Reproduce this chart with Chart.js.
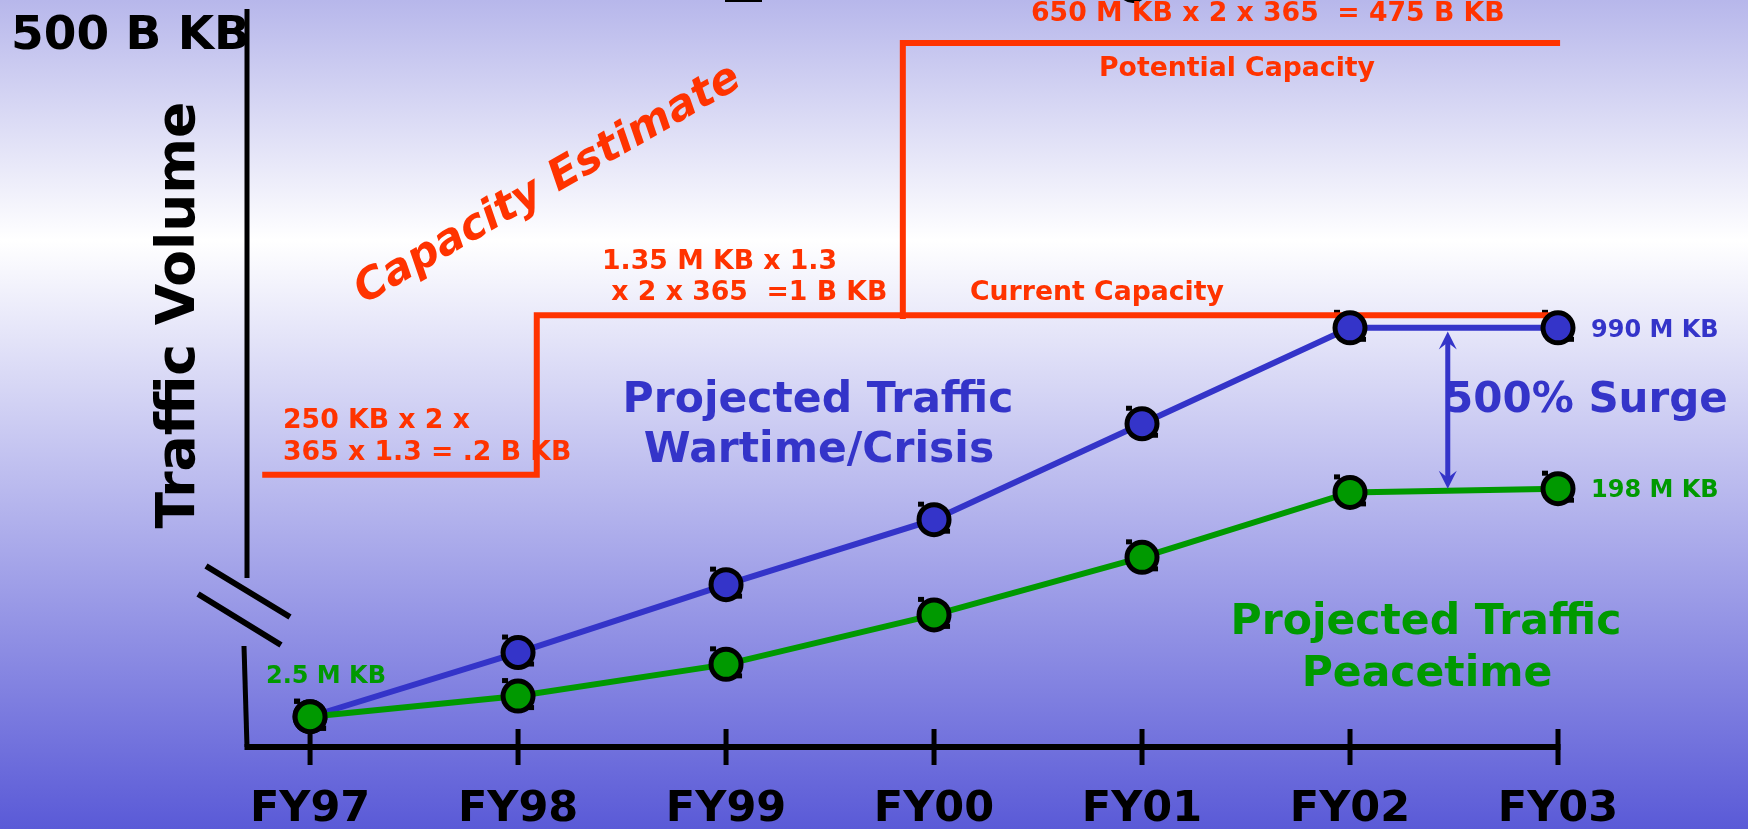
<!DOCTYPE html>
<html>
<head>
<meta charset="utf-8">
<script src="https://cdn.jsdelivr.net/npm/chart.js@4"></script>
<style>
  body { margin: 0; background: #fff; }
  canvas { display: block; }
</style>
</head>
<body>
<canvas id="traffic" width="1748" height="829"></canvas>
<script>
// categories and values (relative height, 0 = x axis, 100 = top of the axis)
const years = ['FY97', 'FY98', 'FY99', 'FY00', 'FY01', 'FY02', 'FY03'];
const wartime = [4.1, 12.8, 22.0, 30.8, 43.8, 56.8, 56.8];
const peacetime = [4.1, 6.9, 11.2, 17.9, 25.7, 34.5, 35.0];

// capacity step lines (x in year index units)
const currentCapX = [-0.23, 1.09, 1.09, 5.98];
const currentCapY = [36.9, 36.9, 58.5, 58.5];
const potentialCapX = [2.85, 2.85, 6.01];
const potentialCapY = [58.0, 95.4, 95.4];

// surge arrow
const surgeX = 5.47;
const surgeTop = 56.3;
const surgeBottom = 35.0;

const BLUE = '#3434c9';
const GREEN = '#009900';
const RED = '#ff3300';
const FONT = '"DejaVu Sans", sans-serif';

const canvas = document.getElementById('traffic');

function pts(xs, ys) {
  return xs.map((x, i) => ({ x: x, y: ys[i] }));
}

// background gradient
const background = {
  id: 'background',
  beforeDraw(chart) {
    const ctx = chart.ctx;
    const g = ctx.createLinearGradient(0, 0, 0, chart.height);
    g.addColorStop(0, '#b7b7eb');
    g.addColorStop(0.29, '#ffffff');
    g.addColorStop(1, '#5a5ad7');
    ctx.save();
    ctx.fillStyle = g;
    ctx.fillRect(0, 0, chart.width, chart.height);
    // bits of cut-off shapes at the top edge
    ctx.fillStyle = '#000';
    ctx.fillRect(725, 0, 37, 2);
    ctx.lineWidth = 4;
    ctx.strokeStyle = '#000';
    ctx.beginPath();
    ctx.arc(1133, -13, 14, 0.2 * Math.PI, 0.8 * Math.PI);
    ctx.stroke();
    ctx.restore();
  }
};

// axes with a break, ticks, labels and marker handles
const axes = {
  id: 'axes',
  beforeDatasetsDraw(chart) {
    const ctx = chart.ctx;
    const area = chart.chartArea;
    const xs = chart.scales.x;
    const bottom = area.bottom;
    const left = area.left;
    ctx.save();
    ctx.strokeStyle = '#000';
    ctx.lineCap = 'butt';

    // y axis, upper part
    ctx.lineWidth = 5;
    ctx.beginPath();
    ctx.moveTo(left + 1, area.top);
    ctx.lineTo(left + 1, bottom - 169);
    ctx.stroke();
    // break marks
    ctx.lineWidth = 6;
    ctx.beginPath();
    ctx.moveTo(left - 40, bottom - 181);
    ctx.lineTo(left + 44, bottom - 130);
    ctx.moveTo(left - 48, bottom - 153);
    ctx.lineTo(left + 35, bottom - 102);
    ctx.stroke();
    // y axis, lower part
    ctx.lineWidth = 5;
    ctx.beginPath();
    ctx.moveTo(left - 2, bottom - 101);
    ctx.lineTo(left + 1, bottom);
    ctx.stroke();

    // x axis
    const right = xs.getPixelForValue(years.length - 1);
    ctx.lineWidth = 6;
    ctx.beginPath();
    ctx.moveTo(left - 1.5, bottom);
    ctx.lineTo(right + 2.5, bottom);
    ctx.stroke();
    ctx.lineWidth = 5;
    ctx.font = 'bold 43px ' + FONT;
    ctx.fillStyle = '#000';
    ctx.textAlign = 'center';
    ctx.textBaseline = 'middle';
    years.forEach((label, i) => {
      const px = xs.getPixelForValue(i);
      ctx.beginPath();
      ctx.moveTo(px, bottom - 18);
      ctx.lineTo(px, bottom + 18);
      ctx.stroke();
      ctx.fillText(label, px, bottom + 63);
    });

    // little selection handles around every marker
    [0, 1].forEach(d => {
      chart.getDatasetMeta(d).data.forEach(p => {
        ctx.fillRect(p.x - 16, p.y - 18, 6, 5);
        ctx.fillRect(p.x + 10, p.y + 9, 6, 5);
      });
    });
    ctx.restore();
  }
};

const notes = [
  { text: '500 B KB', x: 11, y: 37, size: 47, color: '#000', align: 'left' },
  { text: 'Traffic Volume', x: 180, y: 315, size: 53.5, color: '#000', align: 'center', rot: -90 },
  { text: 'Capacity Estimate', x: 548, y: 185, size: 43, color: RED, align: 'center', rot: -30, italic: true },
  { text: '1.35 M KB x 1.3', x: 602, y: 262, size: 26.7, color: RED, align: 'left' },
  { text: ' x 2 x 365  =1 B KB', x: 602, y: 293, size: 26.7, color: RED, align: 'left' },
  { text: 'Current Capacity', x: 970, y: 293, size: 26.7, color: RED, align: 'left' },
  { text: '650 M KB x 2 x 365  = 475 B KB', x: 1031, y: 14, size: 26.7, color: RED, align: 'left' },
  { text: 'Potential Capacity', x: 1099, y: 69, size: 26.7, color: RED, align: 'left' },
  { text: '250 KB x 2 x', x: 283, y: 421, size: 26.7, color: RED, align: 'left' },
  { text: '365 x 1.3 = .2 B KB', x: 283, y: 453, size: 26.7, color: RED, align: 'left' },
  { text: 'Projected Traffic', x: 818, y: 401, size: 42.5, color: BLUE, align: 'center' },
  { text: 'Wartime/Crisis', x: 819, y: 451, size: 42.5, color: BLUE, align: 'center' },
  { text: 'Projected Traffic', x: 1426, y: 623, size: 42.5, color: GREEN, align: 'center' },
  { text: 'Peacetime', x: 1427, y: 675, size: 42.5, color: GREEN, align: 'center' },
  { text: '500% Surge', x: 1444, y: 401, size: 42, color: BLUE, align: 'left' },
  { text: '990 M KB', x: 1591, y: 331, size: 24, color: BLUE, align: 'left' },
  { text: '198 M KB', x: 1591, y: 491, size: 24, color: GREEN, align: 'left' },
  { text: '2.5 M KB', x: 266, y: 677, size: 24, color: GREEN, align: 'left' }
];

function arrowHead(ctx, x, y, dir) {
  // dir = -1 points up, 1 points down
  ctx.beginPath();
  ctx.moveTo(x, y);
  ctx.lineTo(x - 9, y - dir * 18);
  ctx.lineTo(x, y - dir * 11);
  ctx.lineTo(x + 9, y - dir * 18);
  ctx.closePath();
  ctx.fill();
}

const annotations = {
  id: 'annotations',
  afterDatasetsDraw(chart) {
    const ctx = chart.ctx;
    const xs = chart.scales.x;
    const ys = chart.scales.y;
    ctx.save();
    // surge arrow
    const ax = xs.getPixelForValue(surgeX);
    const top = ys.getPixelForValue(surgeTop);
    const bot = ys.getPixelForValue(surgeBottom);
    ctx.strokeStyle = BLUE;
    ctx.fillStyle = BLUE;
    ctx.lineWidth = 5;
    ctx.beginPath();
    ctx.moveTo(ax, top + 8);
    ctx.lineTo(ax, bot - 8);
    ctx.stroke();
    arrowHead(ctx, ax, top, -1);
    arrowHead(ctx, ax, bot, 1);

    // texts
    notes.forEach(n => {
      ctx.save();
      ctx.font = (n.italic ? 'italic ' : '') + 'bold ' + n.size + 'px ' + FONT;
      ctx.fillStyle = n.color;
      ctx.textAlign = n.align;
      ctx.textBaseline = 'middle';
      ctx.translate(n.x, n.y);
      if (n.rot) ctx.rotate(n.rot * Math.PI / 180);
      ctx.fillText(n.text, 0, 0);
      ctx.restore();
    });
    ctx.restore();
  }
};

new Chart(canvas, {
  type: 'line',
  data: {
    datasets: [
      {
        label: 'Projected Traffic Peacetime',
        data: pts(years.map((_, i) => i), peacetime),
        borderColor: GREEN,
        backgroundColor: GREEN,
        borderWidth: 6,
        pointRadius: 15,
        pointBorderWidth: 5,
        pointBorderColor: '#000',
        pointBackgroundColor: GREEN,
        clip: false
      },
      {
        label: 'Projected Traffic Wartime/Crisis',
        data: pts(years.map((_, i) => i), wartime),
        borderColor: BLUE,
        backgroundColor: BLUE,
        borderWidth: 6,
        pointRadius: 15,
        pointBorderWidth: 5,
        pointBorderColor: '#000',
        pointBackgroundColor: BLUE,
        clip: false
      },
      {
        label: 'Current Capacity',
        data: pts(currentCapX, currentCapY),
        borderColor: RED,
        borderWidth: 6,
        pointRadius: 0,
        borderJoinStyle: 'miter',
        clip: false
      },
      {
        label: 'Potential Capacity',
        data: pts(potentialCapX, potentialCapY),
        borderColor: RED,
        borderWidth: 6,
        pointRadius: 0,
        borderJoinStyle: 'miter',
        clip: false
      }
    ]
  },
  options: {
    responsive: false,
    animation: false,
    devicePixelRatio: 1,
    layout: { autoPadding: false, padding: { left: 246, top: 9, right: 190, bottom: 82 } },
    plugins: {
      legend: { display: false },
      tooltip: { enabled: false }
    },
    scales: {
      x: { type: 'linear', min: -0.308, max: 6, display: false },
      y: { type: 'linear', min: 0, max: 100, display: false }
    }
  },
  plugins: [background, axes, annotations]
});
</script>
</body>
</html>
